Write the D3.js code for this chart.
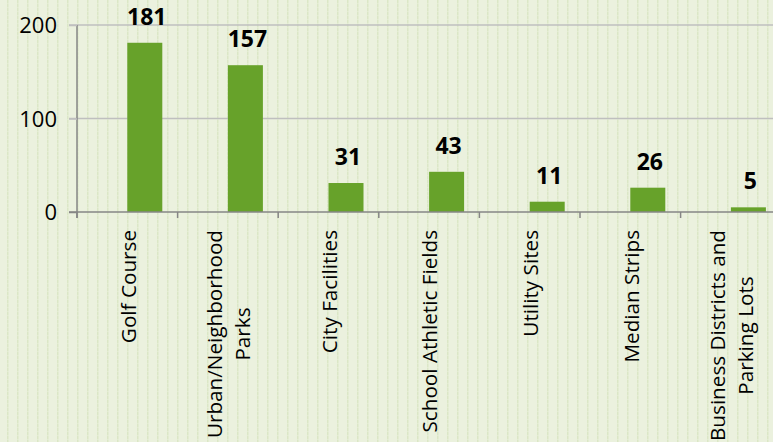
<!DOCTYPE html>
<html><head><meta charset="utf-8">
<script src="https://cdn.jsdelivr.net/npm/d3@7"></script>
<style>html,body{margin:0;padding:0;background:#ebf1de;}svg{display:block;}</style>
</head><body>
<svg id="chart" width="773" height="442"></svg>
<script>
const categories = [["Golf Course"], ["Urban/Neighborhood","Parks"], ["City Facilities"], ["School Athletic Fields"], ["Utility Sites"], ["Median Strips"], ["Business Districts and","Parking Lots"]];
const values = [181, 157, 31, 43, 11, 26, 5];
const yTicks = [0, 100, 200];

const svg = d3.select("#chart");
const W = 773, H = 442;
const defs = svg.append("defs");
const pat = defs.append("pattern").attr("id","bg").attr("patternUnits","userSpaceOnUse")
  .attr("width",10).attr("height",4).attr("x",7);
pat.append("rect").attr("width",10).attr("height",4).attr("fill","#ebf1de");
pat.append("rect").attr("x",0).attr("width",1.5).attr("height",3).attr("fill","#dbe7c6");
pat.append("rect").attr("x",0).attr("y",3).attr("width",1.5).attr("height",1).attr("fill","#e3ecd2");
svg.append("rect").attr("width",W).attr("height",H).attr("fill","url(#bg)");

const x0 = 77, bandW = 100.6, y0 = 212;
const x = d3.scaleBand().domain(d3.range(values.length)).range([x0, x0 + bandW*values.length]).paddingInner(0).paddingOuter(0);
const y = d3.scaleLinear().domain([0, 200]).range([y0, 25]);

// gridlines
svg.append("g").selectAll("line").data(yTicks.filter(d=>d>0)).join("line")
  .attr("x1", 69).attr("x2", W).attr("y1", d=>y(d)).attr("y2", d=>y(d))
  .attr("stroke","#bfbfbf").attr("stroke-width",1.5);

// y axis
const yAxis = d3.axisLeft(y).tickValues(yTicks).tickSize(8).tickPadding(12);
const gy = svg.append("g").attr("transform",`translate(${x0},0)`).call(yAxis);
gy.select(".domain").attr("stroke","#868686").attr("stroke-width",1.5).attr("d",`M0,${y(200)}V${y0+6}`);
gy.selectAll(".tick line").attr("stroke", d=> d===0 ? "#868686" : "#bfbfbf").attr("stroke-width",1.5);
gy.selectAll(".tick text").attr("font-family","'Open Sans', sans-serif").attr("font-size",22).attr("fill","#000").attr("dy","0.36em");

// bars
const barW = 35;
svg.append("g").selectAll("rect").data(values).join("rect")
  .attr("x",(d,i)=> x(i) + x.bandwidth()/2)
  .attr("width", barW)
  .attr("y", d=>y(d)).attr("height", d=> y0 - y(d))
  .attr("fill","#67a22a");

// x axis
const xAxis = d3.axisBottom(x).tickSize(0).tickFormat("");
const gx = svg.append("g").attr("transform",`translate(0,${y0})`).call(xAxis);
gx.select(".domain").attr("stroke","#868686").attr("stroke-width",1.5).attr("d",`M${x0-8},0H${W}`);
gx.selectAll(".tick").remove();
const bounds = d3.range(values.length+1).map(i=> x0 + i*bandW).filter(v=>v<W);
gx.selectAll(".sep").data(bounds).join("line").attr("class","sep")
  .attr("x1",d=>d).attr("x2",d=>d).attr("y1",0).attr("y2",6)
  .attr("stroke","#868686").attr("stroke-width",1.5);

// category labels (rotated)
const lg = svg.append("g").attr("font-family","'Open Sans', sans-serif").attr("font-size",20.7).attr("fill","#000");
categories.forEach((lines,i)=>{
  const cx = x(i) + x.bandwidth()/2 + 1;
  const g = lg.append("g").attr("transform",`translate(${cx},230) rotate(-90)`);
  const n = lines.length, lh = 28;
  const texts = lines.map((ln,j)=> g.append("text").attr("x",0).attr("y",(j-(n-1)/2)*lh).attr("dy","0.35em").attr("text-anchor","middle").text(ln));
  const maxLen = d3.max(texts, t=> t.node().getComputedTextLength());
  texts.forEach(t=> t.attr("x", -maxLen/2));
});

// value labels
svg.append("g").selectAll("text").data(values).join("text")
  .attr("x",(d,i)=> x(i) + x.bandwidth()/2 + barW/2 + 2)
  .attr("y", d=> y(d) - 18)
  .attr("text-anchor","middle")
  .attr("font-family","'Open Sans', sans-serif").attr("font-weight","bold").attr("font-size",23)
  .attr("fill","#000").text(d=>d);
</script>
</body></html>
